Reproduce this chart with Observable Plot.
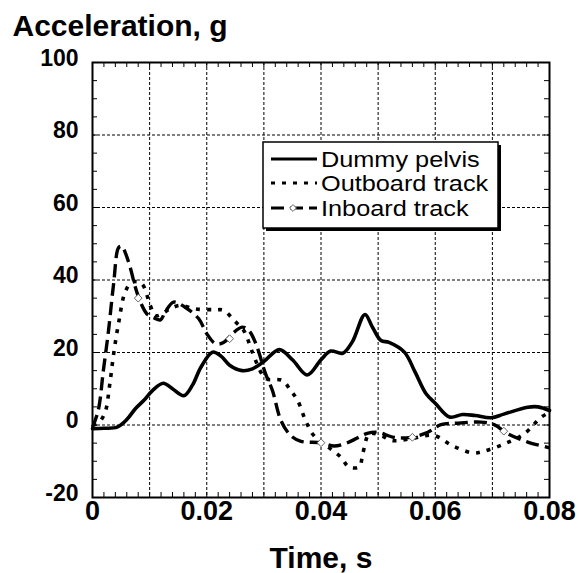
<!DOCTYPE html>
<html>
<head>
<meta charset="utf-8">
<script src="https://cdn.jsdelivr.net/npm/d3@7"></script>
<script src="https://cdn.jsdelivr.net/npm/@observablehq/plot@0.6"></script>
<style>
  html, body { margin: 0; padding: 0; background: white; }
  svg { display: block; }
</style>
</head>
<body>
<div id="chart"></div>
<script>
// ---- Data ----
const pelvisT = [0, 0.002, 0.0043, 0.006, 0.0075, 0.009, 0.0105, 0.0124, 0.014, 0.016, 0.0175, 0.019, 0.021, 0.0225, 0.024, 0.0262, 0.028, 0.030, 0.0327, 0.035, 0.0376, 0.040, 0.0417, 0.0438, 0.0455, 0.0477, 0.049, 0.0505, 0.0519, 0.0546, 0.0565, 0.0584, 0.060, 0.0625, 0.0648, 0.067, 0.0698, 0.072, 0.0762, 0.078, 0.08];
const pelvisY = [-1, -0.9, -0.6, 1.5, 4.5, 6.8, 9.5, 11.5, 10, 8.1, 11, 16, 20.1, 19, 16.5, 15, 15.5, 17.5, 20.8, 18, 13.8, 18, 20.4, 19.8, 23, 30.5, 27, 23.3, 22.8, 20.1, 14.5, 8.6, 6, 2.2, 2.9, 2.6, 2.0, 3, 4.9, 5, 4];

const outboardT = [0, 0.001, 0.0022, 0.003, 0.0037, 0.0046, 0.0057, 0.0069, 0.0086, 0.0101, 0.011, 0.012, 0.0135, 0.0154, 0.018, 0.0213, 0.023, 0.0248, 0.0265, 0.028, 0.0295, 0.0305, 0.0332, 0.0347, 0.0359, 0.0373, 0.0385, 0.040, 0.0417, 0.0435, 0.0449, 0.0467, 0.0473, 0.0485, 0.0505, 0.0525, 0.0557, 0.0598, 0.063, 0.0666, 0.0686, 0.0721, 0.0756, 0.0785, 0.08];
const outboardY = [0, 0.5, 3.5, 11, 19.6, 28.4, 36.6, 39.4, 39, 33, 30.2, 30.5, 32, 33, 32, 31.8, 31.6, 28.8, 26, 20, 14.5, 12.7, 12.3, 9.5, 6.8, 1.2, -2.4, -4.9, -6.6, -8.9, -11.6, -11.5, -8, -2.4, -2.9, -4.3, -3.8, -2.9, -5.7, -7.7, -7.2, -5.2, -2.4, 2.1, 3.5];

const inboardT = [0, 0.001, 0.0019, 0.0028, 0.0037, 0.0046, 0.0052, 0.0057, 0.0066, 0.0075, 0.0084, 0.0095, 0.0107, 0.0119, 0.0127, 0.0142, 0.0162, 0.0186, 0.020, 0.0216, 0.023, 0.0245, 0.0262, 0.0274, 0.0286, 0.0303, 0.0315, 0.033, 0.0347, 0.0365, 0.040, 0.0423, 0.0446, 0.0481, 0.0499, 0.0528, 0.0557, 0.0587, 0.061, 0.0639, 0.068, 0.0703, 0.0727, 0.0762, 0.08];
const inboardY = [-0.6, 4, 15, 26, 39, 49, 49.3, 47.7, 43.5, 38, 33.9, 30.7, 29.6, 29, 31.1, 33.9, 32.5, 29.3, 25.2, 22.4, 22.8, 25.2, 27, 26, 22.4, 14.1, 9.5, 1.2, -2.9, -4.5, -4.9, -5.8, -4.9, -2.3, -2, -3.4, -3.4, -2, 0.1, 0.5, 0.8, 0.1, -2.4, -4.7, -6.3];

// open diamond markers on the inboard track
const markerT = [0.008, 0.024, 0.040, 0.056, 0.072];
const markerY = [35, 23.8, -4.9, -3.4, -1.7];

const seriesNames = ["Dummy pelvis", "Outboard track", "Inboard track"];

const xTicks = [0, 0.02, 0.04, 0.06, 0.08];
const yTicks = [-20, 0, 20, 40, 60, 80, 100];
const xGrid = [0.01, 0.02, 0.03, 0.04, 0.05, 0.06, 0.07];
const yGrid = [0, 20, 40, 60, 80];
const xMinor = d3.range(1, 40).map(i => +(i * 0.002).toFixed(3));
const yMinor = d3.range(-15, 100, 5);

const xTitle = "Time, s";
const yTitle = "Acceleration, g";

// ---- Build tables ----
const toRows = (T, Y) => T.map((t, i) => ({t, v: Y[i]}));
const pelvis = toRows(pelvisT, pelvisY);
const outboard = toRows(outboardT, outboardY);
const inboard = toRows(inboardT, inboardY);
const markers = toRows(markerT, markerY);

const styles = [
  {stroke: "black", strokeWidth: 3.6, strokeDasharray: null},
  {stroke: "black", strokeWidth: 3.6, strokeDasharray: "4,7"},
  {stroke: "black", strokeWidth: 3.4, strokeDasharray: "13,6"}
];

const W = 579, H = 573;
const mL = 92, mR = 30, mT = 62, mB = 76;
const frameH = H - mT - mB, frameW = W - mL - mR;
const font = "'Liberation Sans', Arial, Helvetica, sans-serif";

const chart = Plot.plot({
  width: W, height: H,
  marginLeft: mL, marginRight: mR, marginTop: mT, marginBottom: mB,
  style: {fontFamily: font, background: "white", color: "black", overflow: "visible"},
  x: {domain: [0, 0.08]},
  y: {domain: [-20, 100]},
  marks: [
    Plot.gridX(xGrid, {stroke: "black", strokeOpacity: 1, strokeWidth: 1, strokeDasharray: "3,2"}),
    Plot.gridY(yGrid, {stroke: "black", strokeOpacity: 1, strokeWidth: 1, strokeDasharray: "3,2"}),
    // inward minor ticks on all four sides
    Plot.tickX(xMinor, {x: d => d, insetTop: frameH - 5, stroke: "black", strokeWidth: 1}),
    Plot.tickX(xMinor, {x: d => d, insetBottom: frameH - 5, stroke: "black", strokeWidth: 1}),
    Plot.tickY(yMinor, {y: d => d, insetRight: frameW - 5, stroke: "black", strokeWidth: 1}),
    Plot.tickY(yMinor, {y: d => d, insetLeft: frameW - 5, stroke: "black", strokeWidth: 1}),
    Plot.axisX({ticks: xTicks, tickSize: 0, tickPadding: 3, tickFormat: d => d === 0 ? "0" : d.toFixed(2), fontSize: 27, fontWeight: "bold", label: null}),
    Plot.axisY({ticks: yTicks, tickSize: 0, tickPadding: 14, dy: -4, tickFormat: d => String(d), fontSize: 23, fontWeight: "bold", label: null}),
    Plot.line(outboard, {x: "t", y: "v", curve: "catmull-rom", ...styles[1], strokeLinecap: "butt"}),
    Plot.line(inboard, {x: "t", y: "v", curve: "catmull-rom", ...styles[2], strokeLinecap: "butt"}),
    Plot.line(pelvis, {x: "t", y: "v", curve: "catmull-rom", ...styles[0], strokeLinejoin: "round"}),
    Plot.dot(markers, {x: "t", y: "v", symbol: "diamond2", r: 3.5, fill: "white", stroke: "#666", strokeWidth: 1}),
    Plot.frame({stroke: "black", strokeWidth: 2}),
    Plot.text([xTitle], {text: d => d, frameAnchor: "bottom", lineAnchor: "bottom", dy: 70, fontSize: 30, fontWeight: "bold"}),
    Plot.text([yTitle], {text: d => d, frameAnchor: "top-left", textAnchor: "start", lineAnchor: "bottom", dx: -80, dy: -27, fontSize: 30, fontWeight: "bold"})
  ]
});

document.getElementById("chart").appendChild(chart);

// ---- Legend (boxed, with drop shadow) ----
const svg = d3.select(chart);
const lg = svg.append("g").attr("font-family", font).attr("text-anchor", "start");
const bx = 263, by = 142, bw = 235, bh = 86;
lg.append("rect").attr("x", bx + 3).attr("y", by + 3).attr("width", bw).attr("height", bh).attr("fill", "black");
lg.append("rect").attr("x", bx).attr("y", by).attr("width", bw).attr("height", bh)
  .attr("fill", "white").attr("stroke", "black").attr("stroke-width", 1.5);
const rowY = [159, 183, 208];
seriesNames.forEach((name, i) => {
  const s = styles[i];
  lg.append("line").attr("x1", 271).attr("x2", 317).attr("y1", rowY[i]).attr("y2", rowY[i])
    .attr("stroke", s.stroke).attr("stroke-width", s.strokeWidth - 0.6)
    .attr("stroke-dasharray", s.strokeDasharray);
  if (i === 2) {
    lg.append("path").attr("d", d3.symbol(d3.symbolDiamond2, 30)())
      .attr("transform", `translate(293,${rowY[i]})`)
      .attr("fill", "white").attr("stroke", "#666").attr("stroke-width", 1);
  }
  lg.append("text").attr("transform", `translate(321,${rowY[i]}) scale(1.15,1)`)
    .attr("text-anchor", "start")
    .attr("dy", "0.36em").attr("font-size", 22).attr("fill", "black").text(name);
});
</script>
</body>
</html>
